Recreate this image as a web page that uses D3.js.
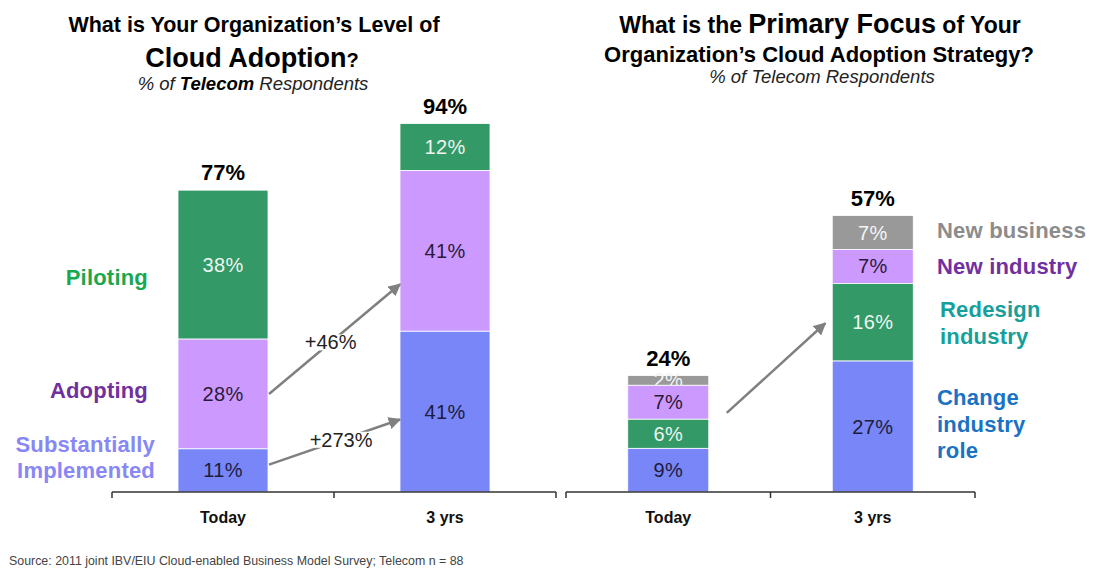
<!DOCTYPE html>
<html>
<head>
<meta charset="utf-8">
<script src="https://cdn.jsdelivr.net/npm/d3@7"></script>
<style>
  body { margin: 0; background: #fff; }
  svg { font-family: Arial, "Liberation Sans", sans-serif; }
</style>
</head>
<body>
<div id="chart"></div>
<script>
const categories = ["Today", "3 yrs"];

// left panel: level of cloud adoption
const adoptSeries = ["Substantially Implemented", "Adopting", "Piloting"];
const adoptImplemented = [11, 41];
const adoptAdopting = [28, 41];
const adoptPiloting = [38, 12];
const adoptTotals = [77, 94];
const adoptArrowLabels = ["+46%", "+273%"];
const adoptArrowFrom = [25, 7];
const adoptArrowTo = [53, 18.5];

// right panel: primary focus
const focusSeries = ["Change industry role", "Redesign industry", "New industry", "New business"];
const focusChange = [9, 27];
const focusRedesign = [6, 16];
const focusNewIndustry = [7, 7];
const focusNewBusiness = [2, 7];
const focusTotals = [24, 57];
const focusArrowFrom = [16.3];
const focusArrowTo = [34.8];

const W = 1094;
const H = 569;
const base = 492;

const svg = d3.select("#chart")
  .append("svg")
  .attr("width", W)
  .attr("height", H);

svg.append("defs").append("marker")
  .attr("id", "head")
  .attr("viewBox", "0 0 10 10")
  .attr("refX", 9)
  .attr("refY", 5)
  .attr("markerWidth", 5)
  .attr("markerHeight", 5)
  .attr("orient", "auto")
  .append("path")
  .attr("d", "M0,0L10,5L0,10Z")
  .attr("fill", "#808080");

// scales
const xL = d3.scaleBand().domain(categories).range([112, 556]);
const yL = d3.scaleLinear().domain([0, 100]).range([base, 100]);
const xR = d3.scaleBand().domain(categories).range([566, 975]);
const yR = d3.scaleLinear().domain([0, 80]).range([base, 104]);

function drawPanel(x, y, barW, series, values, colors, textColors, totals) {
  const rows = categories.map((c, i) => {
    const o = { cat: c };
    series.forEach((s, j) => o[s] = values[j][i]);
    return o;
  });
  const stack = d3.stack().keys(series)(rows);
  const g = svg.append("g");

  // top layers first, so lower segments cover labels that spill out
  stack.slice().reverse().forEach((layer) => {
    const k = layer.index;
    const lg = g.append("g");
    lg.selectAll("rect")
      .data(layer)
      .enter()
      .append("rect")
      .attr("x", (d) => x(d.data.cat) + (x.bandwidth() - barW) / 2)
      .attr("y", (d) => y(d[1]))
      .attr("width", barW)
      .attr("height", (d) => y(d[0]) - y(d[1]))
      .attr("fill", colors[k])
      .attr("stroke", "#fff")
      .attr("stroke-width", 0.8);
    lg.selectAll("text")
      .data(layer)
      .enter()
      .append("text")
      .attr("x", (d) => x(d.data.cat) + x.bandwidth() / 2)
      .attr("y", (d) => y((d[0] + d[1]) / 2) + 7)
      .attr("text-anchor", "middle")
      .attr("font-size", 20)
      .attr("letter-spacing", 0.3)
      .attr("fill", textColors[k])
      .text((d) => (d[1] - d[0]) + "%");
  });

  // totals
  g.selectAll(".total")
    .data(totals)
    .enter()
    .append("text")
    .attr("class", "total")
    .attr("x", (d, i) => x(categories[i]) + x.bandwidth() / 2)
    .attr("y", (d) => y(d) - 10)
    .attr("text-anchor", "middle")
    .attr("font-size", 22)
    .attr("font-weight", "bold")
    .text((d) => d + "%");

  // axis
  const axis = d3.axisBottom(x).tickSize(0).tickPadding(20);
  const ag = g.append("g")
    .attr("transform", "translate(0," + base + ")")
    .call(axis);
  ag.select(".domain").remove();
  ag.selectAll("text")
    .attr("font-size", 16)
    .attr("font-weight", "bold")
    .attr("fill", "#111");

  const r = x.range();
  const edges = [r[0]].concat(categories.map((c) => x(c) + x.step()));
  g.append("line")
    .attr("x1", r[0]).attr("x2", r[1])
    .attr("y1", base).attr("y2", base)
    .attr("stroke", "#333").attr("stroke-width", 1.5);
  g.selectAll(".edge")
    .data(edges)
    .enter()
    .append("line")
    .attr("class", "edge")
    .attr("x1", (d) => d).attr("x2", (d) => d)
    .attr("y1", base).attr("y2", base + 6)
    .attr("stroke", "#333").attr("stroke-width", 1.5);
}

function drawArrows(x, y, barW, from, to, labels, labelAt, gapStart, gapEnd) {
  from.forEach((v, i) => {
    const x1 = x(categories[0]) + (x.bandwidth() + barW) / 2 + gapStart;
    const x2 = x(categories[1]) + (x.bandwidth() - barW) / 2 - gapEnd;
    const y1 = y(v);
    const y2 = y(to[i]);
    svg.append("line")
      .attr("x1", x1).attr("y1", y1)
      .attr("x2", x2).attr("y2", y2)
      .attr("stroke", "#808080")
      .attr("stroke-width", 2.5)
      .attr("marker-end", "url(#head)");
    if (labels) {
      const f = labelAt[i];
      const mx = x1 + (x2 - x1) * f;
      const my = y1 + (y2 - y1) * f;
      const lg = svg.append("g");
      const bg = lg.append("rect").attr("fill", "#fff");
      const t = lg.append("text")
        .attr("x", mx).attr("y", my + 7)
        .attr("text-anchor", "middle")
        .attr("font-size", 20)
        .attr("fill", "#222")
        .text(labels[i]);
      const bb = t.node().getBBox();
      bg.attr("x", bb.x - 2).attr("y", bb.y + 3)
        .attr("width", bb.width + 4).attr("height", bb.height - 6);
    }
  });
}

drawPanel(xL, yL, 90, adoptSeries,
  [adoptImplemented, adoptAdopting, adoptPiloting],
  ["#7886f8", "#cc99ff", "#339966"],
  ["#1c1c3c", "#2a1a3a", "#eef6ee"],
  adoptTotals);

drawPanel(xR, yR, 81, focusSeries,
  [focusChange, focusRedesign, focusNewIndustry, focusNewBusiness],
  ["#7886f8", "#339966", "#cc99ff", "#999999"],
  ["#1c1c3c", "#eef6ee", "#2a1a3a", "#f4f4f4"],
  focusTotals);

drawArrows(xL, yL, 90, adoptArrowFrom, adoptArrowTo, adoptArrowLabels, [0.47, 0.55], 1, 0);
drawArrows(xR, yR, 81, focusArrowFrom, focusArrowTo, null, null, 18, 7);

// series labels, left panel
const leftLabels = [
  { lines: ["Piloting"], x: 148, y: 285, color: "#1aa84f" },
  { lines: ["Adopting"], x: 148, y: 398, color: "#7030a0" },
  { lines: ["Substantially", "Implemented"], x: 155, y: 452, color: "#8787f5" }
];
leftLabels.forEach((d) => {
  d.lines.forEach((s, j) => {
    svg.append("text")
      .attr("x", d.x).attr("y", d.y + j * 26)
      .attr("text-anchor", "end")
      .attr("font-size", 22)
      .attr("font-weight", "bold")
      .attr("letter-spacing", 0.2)
      .attr("fill", d.color)
      .text(s);
  });
});

// series labels, right panel
const rightLabels = [
  { lines: ["New business"], x: 937, y: 238, color: "#8c8c8c" },
  { lines: ["New industry"], x: 937, y: 274, color: "#7030a0" },
  { lines: ["Redesign", "industry"], x: 940, y: 317, color: "#16a09c" },
  { lines: ["Change", "industry", "role"], x: 937, y: 405, color: "#1a72c4" }
];
rightLabels.forEach((d) => {
  d.lines.forEach((s, j) => {
    svg.append("text")
      .attr("x", d.x).attr("y", d.y + j * 26.5)
      .attr("font-size", 22)
      .attr("font-weight", "bold")
      .attr("letter-spacing", 0.2)
      .attr("fill", d.color)
      .text(s);
  });
});

// titles
svg.append("text").attr("x", 254).attr("y", 32)
  .attr("text-anchor", "middle").attr("font-weight", "bold").attr("font-size", 21.5)
  .text("What is Your Organization\u2019s Level of");
const t1b = svg.append("text").attr("x", 252).attr("y", 67).attr("text-anchor", "middle").attr("font-weight", "bold");
t1b.append("tspan").attr("font-size", 27).text("Cloud Adoption");
t1b.append("tspan").attr("font-size", 20).text("?");
const s1 = svg.append("text").attr("x", 253).attr("y", 90).attr("text-anchor", "middle")
  .attr("font-size", 18.5).attr("font-style", "italic").attr("fill", "#222");
s1.append("tspan").text("% of ");
s1.append("tspan").attr("font-weight", "bold").attr("fill", "#000").text("Telecom");
s1.append("tspan").text(" Respondents");

const t2 = svg.append("text").attr("x", 820).attr("y", 33).attr("text-anchor", "middle").attr("font-weight", "bold");
t2.append("tspan").attr("font-size", 23).text("What is the ");
t2.append("tspan").attr("font-size", 27).text("Primary Focus");
t2.append("tspan").attr("font-size", 23).text(" of Your");
svg.append("text").attr("x", 819).attr("y", 62).attr("text-anchor", "middle")
  .attr("font-weight", "bold").attr("font-size", 22)
  .text("Organization\u2019s Cloud Adoption Strategy?");
svg.append("text").attr("x", 822).attr("y", 83).attr("text-anchor", "middle")
  .attr("font-size", 18.5).attr("font-style", "italic").attr("fill", "#222")
  .text("% of Telecom Respondents");

// source note
svg.append("text")
  .attr("x", 9).attr("y", 565)
  .attr("font-size", 12.4)
  .attr("fill", "#444")
  .text("Source:  2011 joint IBV/EIU Cloud-enabled Business Model Survey; Telecom n = 88");
</script>
</body>
</html>
